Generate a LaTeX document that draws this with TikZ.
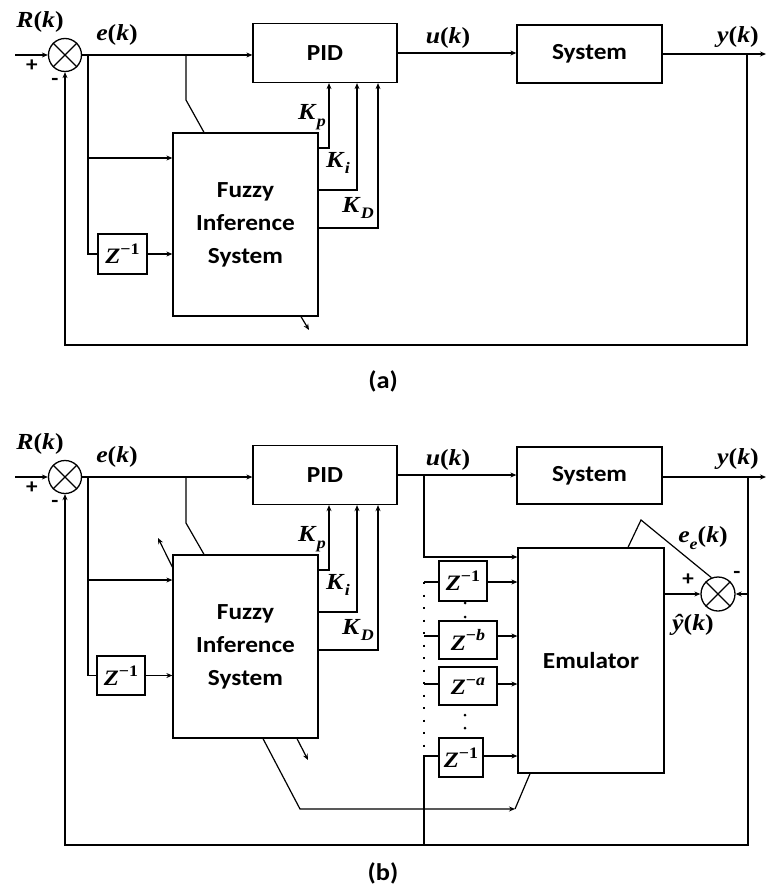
\documentclass[tikz,border=0pt]{standalone}
\usepackage{fontspec}
\usetikzlibrary{arrows.meta}
\newfontfamily\lblfont[FakeStretch=1.1]{Carlito}
\newfontfamily\mfont[FakeStretch=1.12]{Liberation Serif}
\newcommand{\xcross}[1]{\draw[line width=1.2pt] (#1.45) -- (#1.225) (#1.135) -- (#1.315);}
\newcommand{\sbs}[1]{\raisebox{-0.3em}{\fontsize{16}{16}\selectfont #1}}
\newcommand{\sps}[1]{\raisebox{0.42em}{\fontsize{16}{16}\selectfont #1}}
\begin{document}
\begin{tikzpicture}[x=1pt,y=-1pt,
  line width=1.2pt,
  blk/.style={draw, line width=1.3pt, inner sep=0pt, font=\lblfont\bfseries\fontsize{23}{33}\selectfont, align=center},
  sumj/.style={circle, draw, line width=1.3pt, minimum size=33pt, inner sep=0pt},
  zbox/.style={draw, line width=1.3pt, inner sep=0pt, font=\mfont\bfseries\fontsize{22}{22}\selectfont},
  mlab/.style={font=\mfont\bfseries\fontsize{23}{23}\selectfont, inner sep=0pt},
  sgn/.style={font=\lblfont\bfseries\fontsize{21}{21}\selectfont, inner sep=0pt},
  figcap/.style={font=\lblfont\bfseries\fontsize{24}{24}\selectfont, inner sep=0pt},
  arr/.style={-{Stealth[length=6pt,width=5pt]}},
  dotl/.style={line width=2.4pt, dash pattern=on 2.4pt off 10.1pt},
]
\useasboundingbox (0,0) rectangle (766,893);

% ================= (a) =================
\node[sumj] (sA) at (65,55) {};
\xcross{sA}
\node[blk, minimum width=144pt, minimum height=59pt] (pidA) at (325,53) {PID};
\node[blk, minimum width=145pt, minimum height=58pt] (sysA) at (589.5,54) {System};
\node[blk, minimum width=145pt, minimum height=183pt] (fisA) at (245.5,224.5) {Fuzzy\\Inference\\System};
\node[zbox, minimum width=49pt, minimum height=40pt] (zA) at (122.5,254) {\textit{Z}\sps{−1}};

\coordinate (inA) at (15,55);
\coordinate (oA) at (766,54);
\coordinate (jA) at (747,54);
\coordinate (eA1) at (88,55);
\coordinate (eA2) at (88,158);
\coordinate (swA) at (186,55);

\draw[arr] (inA) -- (sA.west);
\draw[arr] (sA.east) -- (sA.east -| pidA.west);
\draw[arr] (pidA.east) -- (pidA.east -| sysA.west);
\draw[arr] (sysA.east) -- (oA);
\draw[arr] (jA) |- (sA.south |- 0,345) -- (sA.south);
\draw (eA1) |- (zA.west);
\draw[arr] (eA2) -- (eA2 -| fisA.west);
\draw[arr] (zA.east) -- (zA.east -| fisA.west);
\draw (swA) -- (186,100) -- (fisA.north -| 204,0);
\draw[arr] (fisA.east |- 0,148) -| (pidA.south -| 329,0);
\draw[arr] (fisA.east |- 0,190) -| (pidA.south -| 357,0);
\draw[arr] (fisA.east |- 0,228) -| (pidA.south -| 378,0);
\draw[arr] (fisA.south -| 301,0) -- (309,330);

\node[mlab] (lRA) at (40,22) {\textit{R}(\textit{k})};
\node[mlab] (leA) at (117,35) {\textit{e}(\textit{k})};
\node[mlab] (luA) at (448,38) {\textit{u}(\textit{k})};
\node[mlab] (lyA) at (738,37) {\textit{y}(\textit{k})};
\node[sgn] (lpA) at (32,66) {+};
\node[sgn] (lmA) at (55,82) {-};
\node[mlab] (kpA) at (312,117) {\textit{K}\sbs{\textit{p}}};
\node[mlab] (kiA) at (338,163) {\textit{K}\sbs{\textit{i}}};
\node[mlab] (kdA) at (358,208) {\textit{K}\sbs{\textit{D}}};
\node[figcap] (capA) at (383,381) {(a)};

% ================= (b) =================
\node[sumj] (sB) at (65,477) {};
\xcross{sB}
\node[blk, minimum width=144pt, minimum height=59pt] (pidB) at (325,475) {PID};
\node[blk, minimum width=145pt, minimum height=57pt] (sysB) at (589.5,475.5) {System};
\node[blk, minimum width=145pt, minimum height=183pt] (fisB) at (245.5,646.5) {Fuzzy\\Inference\\System};
\node[zbox, minimum width=48pt, minimum height=39pt] (zB) at (121,675.5) {\textit{Z}\sps{−1}};
\node[blk, minimum width=146pt, minimum height=225pt] (emu) at (591,660.5) {Emulator};
\node[zbox, minimum width=48pt, minimum height=40pt] (z1) at (463,581) {\textit{Z}\sps{−1}};
\node[zbox, minimum width=58pt, minimum height=38pt] (zb) at (468,640) {\textit{Z}\sps{−\textit{b}}};
\node[zbox, minimum width=58pt, minimum height=38pt] (za) at (468,686) {\textit{Z}\sps{−\textit{a}}};
\node[zbox, minimum width=44pt, minimum height=39pt] (z1b) at (461,757.5) {\textit{Z}\sps{−1}};
\node[sumj, minimum size=34pt] (sC) at (718,594) {};
\xcross{sC}

\coordinate (inB) at (15,477);
\coordinate (oB) at (766,477);
\coordinate (jB) at (748,477);
\coordinate (eB1) at (88,477);
\coordinate (eB2) at (88,580);
\coordinate (swB) at (186,477);
\coordinate (uB) at (424,475);
\coordinate (d1) at (424,582);
\coordinate (d2) at (424,636);
\coordinate (d3) at (424,684);
\coordinate (d4) at (424,756);
\coordinate (bB) at (424,845);
\coordinate (cB) at (515,809);

\draw[arr] (inB) -- (sB.west);
\draw[arr] (sB.east) -- (sB.east -| pidB.west);
\draw[arr] (pidB.east) -- (pidB.east -| sysB.west);
\draw[arr] (sysB.east |- oB) -- (oB);
\draw[arr] (jB) |- (sB.south |- 0,845) -- (sB.south);
\draw (eB1) |- (zB.west);
\draw[arr] (eB2) -- (eB2 -| fisB.west);
\draw[arr] (zB.east) -- (zB.east -| fisB.west);
\draw (swB) -- (186,523) -- (fisB.north -| 204,0);
\draw[arr] (fisB.west |- 0,567) -- (158,538);
\draw[arr] (fisB.east |- 0,570) -| (pidB.south -| 329,0);
\draw[arr] (fisB.east |- 0,612) -| (pidB.south -| 357,0);
\draw[arr] (fisB.east |- 0,650) -| (pidB.south -| 378,0);
\draw[arr] (fisB.south -| 297,0) -- (308,760);
\draw[arr] (fisB.south -| 263,0) -- (300,809) -- (cB);
\draw (cB) -- (emu.south -| 530,0);

% emulator inputs
\draw[arr] (uB) |- (emu.west |- 0,557);
\draw (d1) -- (d1 -| z1.west);
\draw[arr] (z1.east |- d1) -- (d1 -| emu.west);
\draw (d2) -- (d2 -| zb.west);
\draw[arr] (zb.east |- d2) -- (d2 -| emu.west);
\draw (d3) -- (d3 -| za.west);
\draw[arr] (za.east |- d3) -- (d3 -| emu.west);
\draw (bB) |- (z1b.west |- d4);
\draw[arr] (z1b.east |- d4) -- (d4 -| emu.west);
\draw[dotl] (d1) -- (424,752);
\fill (465,603) circle (1.5pt) (465,617) circle (1.5pt);
\fill (465,715) circle (1.5pt) (465,728) circle (1.5pt);

% error summation
\draw[arr] (emu.east |- sC) -- (sC.west);
\draw[arr] (jB |- sC) -- (sC.east);
\draw (sC.112) -- (641,520) -- (emu.north -| 628,0);

\node[mlab] (lRB) at (40,444) {\textit{R}(\textit{k})};
\node[mlab] (leB) at (117,457) {\textit{e}(\textit{k})};
\node[mlab] (luB) at (448,460) {\textit{u}(\textit{k})};
\node[mlab] (lyB) at (738,459) {\textit{y}(\textit{k})};
\node[sgn] (lpB) at (32,488) {+};
\node[sgn] (lmB) at (55,504) {-};
\node[mlab] (kpB) at (312,539) {\textit{K}\sbs{\textit{p}}};
\node[mlab] (kiB) at (338,585) {\textit{K}\sbs{\textit{i}}};
\node[mlab] (kdB) at (358,630) {\textit{K}\sbs{\textit{D}}};
\node[sgn] (lpC) at (688,580) {+};
\node[sgn] (lmC) at (737,575) {-};
\node[mlab] (leeC) at (703,538) {\textit{e}\sbs{\textit{e}}(\textit{k})};
\node[mlab] (lyhC) at (693,625) {\textit{ŷ}(\textit{k})};
\node[figcap] (capB) at (383,873) {(b)};
\end{tikzpicture}
\end{document}
